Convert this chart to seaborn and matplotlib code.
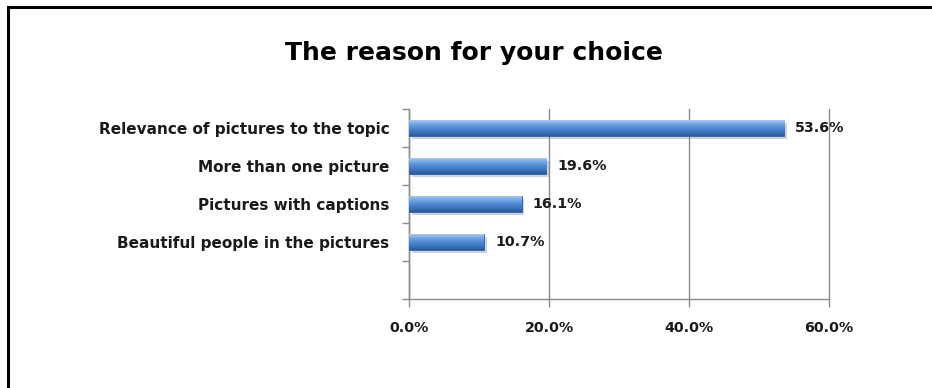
import numpy as np
import pandas as pd
import matplotlib
matplotlib.use("Agg")
import matplotlib.pyplot as plt
import matplotlib.patheffects as pe
from matplotlib.colors import LinearSegmentedColormap
from matplotlib.lines import Line2D
from matplotlib.ticker import FixedLocator
import seaborn as sns

categories = [
    "Relevance of pictures to the topic",
    "More than one picture",
    "Pictures with captions",
    "Beautiful people in the pictures",
]
shares = [53.6, 19.6, 16.1, 10.7]
x_ticks = [0, 20, 40, 60]
x_tick_labels = ["0.0%", "20.0%", "40.0%", "60.0%"]
title = "The reason for your choice"

sns.set_theme(style="white")
plt.rcParams["font.family"] = ["DejaVu Sans"]

W, H = 932, 388
fig = plt.figure(figsize=(W / 100, H / 100), dpi=100)
fig.patch.set_facecolor("white")
ax = fig.add_axes([409 / W, 1 - 299 / H, 420 / W, 190 / H])

df = pd.DataFrame({"reason": categories, "share": shares})
sns.barplot(data=df, x="share", y="reason", orient="h", color="#4F81BD",
            width=0.42, ax=ax, zorder=3, edgecolor="#2F5E9A", linewidth=0.6)

# cylinder-like shading on each bar
bar_cmap = LinearSegmentedColormap.from_list(
    "bar", ["#A4C8F2", "#6FA5E6", "#4F8AD3", "#3F74BC", "#2B5898"])
grad = np.linspace(0, 1, 64).reshape(-1, 1)
for p in list(ax.patches):
    x0, y0, w, h = p.get_x(), p.get_y(), p.get_width(), p.get_height()
    p.set_path_effects([pe.SimplePatchShadow(offset=(2, -2), shadow_rgbFace="#7f7f7f", alpha=0.35),
                        pe.Normal()])
    im = ax.imshow(grad, extent=[x0, x0 + w, y0 + h, y0], origin="upper",
                   aspect="auto", cmap=bar_cmap, zorder=3.5, interpolation="bilinear")
    im.set_clip_path(p)

ax.bar_label(ax.containers[0], labels=[f"{v:.1f}%" for v in shares], padding=8,
             fontsize=10.3, fontweight="bold", color="#1a1a1a", zorder=5)

ax.set_xlim(0, 60)
ax.set_ylim(4.5, -0.5)
ax.set_xlabel("")
ax.set_ylabel("")

axis_grey = "#8c8c8c"
ax.set_xticks(x_ticks)
ax.set_xticklabels(x_tick_labels, fontsize=10.3, fontweight="bold", color="#1a1a1a")
ax.xaxis.grid(True, color=axis_grey, lw=1)
for gl in ax.get_xgridlines():
    gl.set_clip_on(False)
ax.yaxis.grid(False)
ax.set_axisbelow(True)
ax.tick_params(axis="x", direction="out", length=6, width=1, color=axis_grey, pad=10, bottom=True)

ax.set_yticks(range(len(categories)))
ax.set_yticklabels(categories, fontsize=11, fontweight="bold", color="#1a1a1a")
ax.tick_params(axis="y", which="major", length=0, pad=14, left=True)
ax.yaxis.set_minor_locator(FixedLocator(np.arange(-0.5, 4.6, 1.0)))
ax.tick_params(axis="y", which="minor", direction="out", length=5, width=1,
               color=axis_grey, left=True)

for side in ("top", "right"):
    ax.spines[side].set_visible(False)
for side in ("left", "bottom"):
    ax.spines[side].set_color(axis_grey)
    ax.spines[side].set_linewidth(1)

fig.text(474 / W, 1 - 53 / H, title, ha="center", va="center",
         fontsize=18, fontweight="bold", color="black")

# frame on the left and top edges
fig.add_artist(Line2D([8 / W, 8 / W, 1.0], [0.0, 1 - 7 / H, 1 - 7 / H],
                      transform=fig.transFigure, color="black", lw=2.2,
                      solid_joinstyle="miter"))

fig.savefig("out.png", dpi=100, facecolor="white")
